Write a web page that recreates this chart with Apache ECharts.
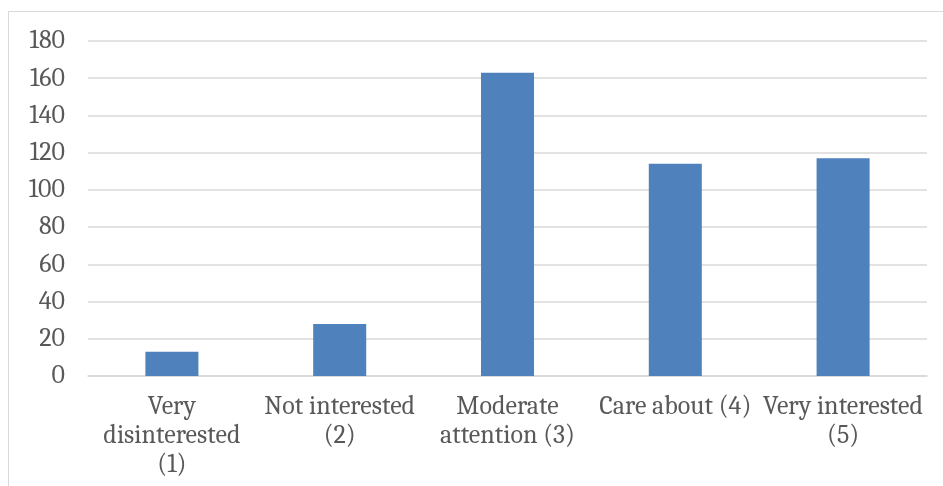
<!DOCTYPE html>
<html>
<head>
<meta charset="utf-8">
<script src="https://cdn.jsdelivr.net/npm/echarts@6/dist/echarts.min.js"></script>
<style>
  html, body { margin: 0; padding: 0; background: #fff; }
  #chart { width: 943px; height: 486px; }
</style>
</head>
<body>
<div id="chart"></div>
<script>
// Survey responses by level of interest
const categories = [
  'Very\ndisinterested\n(1)',
  'Not interested\n(2)',
  'Moderate\nattention (3)',
  'Care about (4)',
  'Very interested\n(5)'
];
const counts = [13, 28, 163, 114, 117];
const yTicks = { min: 0, max: 180, interval: 20 };

const font = 'Cambria, "Liberation Serif", serif';
const chart = echarts.init(document.getElementById('chart'), null, { renderer: 'canvas' });
chart.setOption({
  animation: false,
  backgroundColor: '#ffffff',
  graphic: [{
    type: 'rect',
    shape: { x: 8.5, y: 11.5, width: 940, height: 480 },
    style: { fill: 'none', stroke: '#d9d9d9', lineWidth: 1 },
    silent: true
  }],
  grid: { left: 88, right: 16, top: 41, bottom: 110, containLabel: false },
  xAxis: {
    type: 'category',
    data: categories,
    axisLine: { show: true, lineStyle: { color: '#d9d9d9', width: 1.5 } },
    axisTick: { show: false },
    axisLabel: {
      interval: 0,
      margin: 16,
      color: '#595959',
      fontFamily: font,
      fontSize: 26,
      lineHeight: 29
    }
  },
  yAxis: {
    type: 'value',
    min: yTicks.min,
    max: yTicks.max,
    interval: yTicks.interval,
    axisLine: { show: false },
    axisTick: { show: false },
    splitLine: { lineStyle: { color: '#d9d9d9', width: 1.5 } },
    axisLabel: {
      margin: 23,
      color: '#595959',
      fontFamily: font,
      fontSize: 26
    }
  },
  series: [{
    type: 'bar',
    data: counts,
    barWidth: '31.6%',
    itemStyle: { color: '#4f81bd' }
  }]
});
</script>
</body>
</html>
